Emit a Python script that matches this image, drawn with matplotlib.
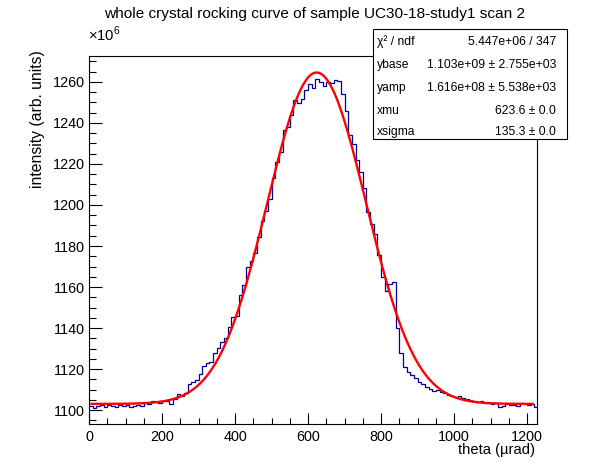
import numpy as np
import matplotlib
matplotlib.use('Agg')
import matplotlib.pyplot as plt
from matplotlib.patches import Rectangle
from matplotlib.ticker import MultipleLocator

plt.rcParams['font.family'] = ['Liberation Sans', 'DejaVu Sans']
plt.rcParams['mathtext.fontset'] = 'custom'
plt.rcParams['mathtext.rm'] = 'Liberation Sans'

# histogram contents (units of 1e6), 10 urad bins
counts = [
    1101.8, 1101.2, 1101.9, 1102.3, 1101.7, 1102.4, 1102.0, 1101.6, 1102.5, 1102.2,
    1102.3, 1101.6, 1102.0, 1102.6, 1102.2, 1103.4, 1103.0, 1104.2, 1104.0, 1103.6,
    1104.5, 1104.3, 1102.8, 1105.5, 1107.8, 1107.0, 1108.5, 1112.5, 1113.8, 1114.5,
    1117.6, 1121.5, 1122.8, 1123.6, 1128.0, 1130.5, 1133.0, 1135.0, 1140.5, 1145.5,
    1146.0, 1156.0, 1161.0, 1170.0, 1172.5, 1176.8, 1184.5, 1192.0, 1197.0, 1203.0,
    1213.0, 1221.0, 1226.0, 1236.5, 1238.2, 1244.0, 1251.0, 1249.6, 1251.5, 1256.0,
    1259.0, 1257.0, 1261.5, 1260.0, 1257.8, 1260.0, 1259.5, 1261.0, 1260.5, 1254.0,
    1246.0, 1234.0, 1229.5, 1222.0, 1216.0, 1208.5, 1196.5, 1190.5, 1186.0, 1175.5,
    1165.0, 1158.0, 1161.5, 1162.5, 1140.0, 1128.0, 1121.0, 1118.5, 1117.0, 1115.5,
    1113.5, 1112.5, 1111.0, 1110.5, 1109.5, 1110.0, 1109.0, 1108.5, 1107.5, 1107.0,
    1106.5, 1106.8, 1105.8, 1105.2, 1105.0, 1104.5, 1104.0, 1104.3, 1103.6, 1103.3,
    1102.8, 1103.2, 1101.6, 1102.0, 1102.8, 1102.3, 1102.6, 1102.0, 1103.2, 1103.0,
    1102.5, 1103.0, 1101.6,
]
bin_width = 10.0
x_max = 1227.0

# fit parameters from the stat box
ybase = 1.103e9
yamp = 1.616e8
xmu = 623.6
xsigma = 135.3
fit_lo, fit_hi = 7.0, 1215.0

stat_labels = ['χ² / ndf', 'ybase', 'yamp', 'xmu', 'xsigma']
stat_values = ['5.447e+06 / 347', '1.103e+09 ± 2.755e+03', '1.616e+08 ± 5.538e+03',
               '623.6 ± 0.0', '135.3 ± 0.0']

W, H = 596, 472
fig = plt.figure(figsize=(W / 100, H / 100), dpi=100)
ax = fig.add_axes([89 / W, 1 - 424 / H, (537 - 89) / W, (424 - 55.5) / H])

edges = np.arange(len(counts) + 1) * bin_width
ax.stairs(counts, edges, color='#000099', lw=0.9, baseline=None)

xf = np.linspace(fit_lo, fit_hi, 600)
yf = (ybase + yamp * np.exp(-0.5 * ((xf - xmu) / xsigma) ** 2)) / 1e6
ax.plot(xf, yf, color='#ff0000', lw=1.7)

ax.set_xlim(0, x_max)
ax.set_ylim(1093.2, 1272.9)
ax.xaxis.set_major_locator(MultipleLocator(200))
ax.xaxis.set_minor_locator(MultipleLocator(50))
ax.yaxis.set_major_locator(MultipleLocator(20))
ax.yaxis.set_minor_locator(MultipleLocator(5))
ax.tick_params(which='both', direction='in', top=False, right=False, labelsize=10.4, width=0.8)
ax.tick_params(axis='y', which='major', length=9.7, pad=3)
ax.tick_params(axis='y', which='minor', length=4.8)
ax.tick_params(axis='x', which='major', length=8, pad=4.5)
ax.tick_params(axis='x', which='minor', length=4)
for s in ax.spines.values():
    s.set_linewidth(0.8)

fig.text(314.5 / W, 1 - 14 / H, 'whole crystal rocking curve of sample UC30-18-study1 scan 2',
         ha='center', va='center', fontsize=11.1)
fig.text(88 / W, 1 - 44 / H, r'$\times10^{6}$', ha='left', va='bottom', fontsize=10.6)
fig.text(38 / W, 1 - 50 / H, 'intensity (arb. units)', rotation=90, ha='center', va='top', fontsize=11.3)
fig.text(535 / W, 1 - 450 / H, 'theta (µrad)', ha='right', va='center', fontsize=10.6)

# stat box
box = Rectangle((373 / W, 1 - 138.5 / H), (567 - 373) / W, (138.5 - 29) / H,
                transform=fig.transFigure, facecolor='white', edgecolor='black', lw=0.8, zorder=5)
fig.add_artist(box)
row_y = [41.7, 65, 88.3, 111, 131.7]
for lab, val, yy in zip(stat_labels, stat_values, row_y):
    fig.text(377 / W, 1 - yy / H, lab, ha='left', va='center', fontsize=8.7, zorder=6)
    fig.text(556 / W, 1 - yy / H, val, ha='right', va='center', fontsize=8.7, zorder=6)

fig.savefig('out.png', dpi=100)
